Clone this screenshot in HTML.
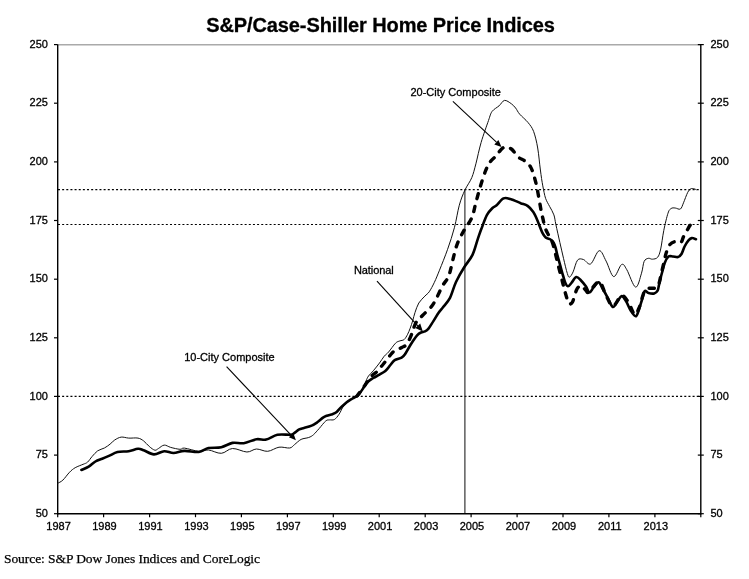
<!DOCTYPE html>
<html><head><meta charset="utf-8"><style>
html,body{margin:0;padding:0;background:#fff;width:749px;height:579px;overflow:hidden;}
svg{display:block;will-change:transform;}
</style></head><body>
<svg width="749" height="579" viewBox="0 0 749 579">
<text x="380.5" y="32.2" text-anchor="middle" font-size="20" font-weight="bold" letter-spacing="-0.11" font-family="Liberation Sans, sans-serif" stroke="#000" stroke-width="0.3" fill="#000">S&amp;P/Case-Shiller Home Price Indices</text>
<line x1="57.7" y1="189.6" x2="700.8" y2="189.6" stroke="#000" stroke-width="1.2" stroke-dasharray="2 2.1477" stroke-dashoffset="-0.29"/>
<line x1="57.7" y1="224.5" x2="700.8" y2="224.5" stroke="#000" stroke-width="1.2" stroke-dasharray="2 2.1477" stroke-dashoffset="-0.29"/>
<line x1="57.7" y1="396.4" x2="700.8" y2="396.4" stroke="#000" stroke-width="1.2" stroke-dasharray="2 2.1477" stroke-dashoffset="-0.29"/>
<line x1="464.9" y1="189.6" x2="464.9" y2="513.7" stroke="#222" stroke-width="1.1"/>
<line x1="57.7" y1="44.8" x2="700.8" y2="44.8" stroke="#aaa" stroke-width="1.6"/>
<line x1="57.7" y1="44.6" x2="57.7" y2="514.4" stroke="#000" stroke-width="1.4"/>
<line x1="700.8" y1="44.6" x2="700.8" y2="514.4" stroke="#000" stroke-width="1.4"/>
<line x1="57.7" y1="513.7" x2="700.8" y2="513.7" stroke="#000" stroke-width="1.4"/>
<line x1="54.0" y1="513.7" x2="57.7" y2="513.7" stroke="#000" stroke-width="1.2"/>
<line x1="697.8" y1="513.7" x2="703.8" y2="513.7" stroke="#000" stroke-width="1.2"/>
<text x="47.9" y="516.8" text-anchor="end" font-size="11" font-family="Liberation Sans, sans-serif" stroke="#000" stroke-width="0.3">50</text>
<text x="710.4" y="516.8" font-size="11" font-family="Liberation Sans, sans-serif" stroke="#000" stroke-width="0.3">50</text>
<line x1="54.0" y1="455.1" x2="57.7" y2="455.1" stroke="#000" stroke-width="1.2"/>
<line x1="697.8" y1="455.1" x2="703.8" y2="455.1" stroke="#000" stroke-width="1.2"/>
<text x="47.9" y="458.2" text-anchor="end" font-size="11" font-family="Liberation Sans, sans-serif" stroke="#000" stroke-width="0.3">75</text>
<text x="710.4" y="458.2" font-size="11" font-family="Liberation Sans, sans-serif" stroke="#000" stroke-width="0.3">75</text>
<line x1="54.0" y1="396.4" x2="57.7" y2="396.4" stroke="#000" stroke-width="1.2"/>
<line x1="697.8" y1="396.4" x2="703.8" y2="396.4" stroke="#000" stroke-width="1.2"/>
<text x="47.9" y="399.5" text-anchor="end" font-size="11" font-family="Liberation Sans, sans-serif" stroke="#000" stroke-width="0.3">100</text>
<text x="710.4" y="399.5" font-size="11" font-family="Liberation Sans, sans-serif" stroke="#000" stroke-width="0.3">100</text>
<line x1="54.0" y1="337.8" x2="57.7" y2="337.8" stroke="#000" stroke-width="1.2"/>
<line x1="697.8" y1="337.8" x2="703.8" y2="337.8" stroke="#000" stroke-width="1.2"/>
<text x="47.9" y="340.9" text-anchor="end" font-size="11" font-family="Liberation Sans, sans-serif" stroke="#000" stroke-width="0.3">125</text>
<text x="710.4" y="340.9" font-size="11" font-family="Liberation Sans, sans-serif" stroke="#000" stroke-width="0.3">125</text>
<line x1="54.0" y1="279.2" x2="57.7" y2="279.2" stroke="#000" stroke-width="1.2"/>
<line x1="697.8" y1="279.2" x2="703.8" y2="279.2" stroke="#000" stroke-width="1.2"/>
<text x="47.9" y="282.3" text-anchor="end" font-size="11" font-family="Liberation Sans, sans-serif" stroke="#000" stroke-width="0.3">150</text>
<text x="710.4" y="282.3" font-size="11" font-family="Liberation Sans, sans-serif" stroke="#000" stroke-width="0.3">150</text>
<line x1="54.0" y1="220.5" x2="57.7" y2="220.5" stroke="#000" stroke-width="1.2"/>
<line x1="697.8" y1="220.5" x2="703.8" y2="220.5" stroke="#000" stroke-width="1.2"/>
<text x="47.9" y="223.6" text-anchor="end" font-size="11" font-family="Liberation Sans, sans-serif" stroke="#000" stroke-width="0.3">175</text>
<text x="710.4" y="223.6" font-size="11" font-family="Liberation Sans, sans-serif" stroke="#000" stroke-width="0.3">175</text>
<line x1="54.0" y1="161.9" x2="57.7" y2="161.9" stroke="#000" stroke-width="1.2"/>
<line x1="697.8" y1="161.9" x2="703.8" y2="161.9" stroke="#000" stroke-width="1.2"/>
<text x="47.9" y="165.0" text-anchor="end" font-size="11" font-family="Liberation Sans, sans-serif" stroke="#000" stroke-width="0.3">200</text>
<text x="710.4" y="165.0" font-size="11" font-family="Liberation Sans, sans-serif" stroke="#000" stroke-width="0.3">200</text>
<line x1="54.0" y1="103.2" x2="57.7" y2="103.2" stroke="#000" stroke-width="1.2"/>
<line x1="697.8" y1="103.2" x2="703.8" y2="103.2" stroke="#000" stroke-width="1.2"/>
<text x="47.9" y="106.3" text-anchor="end" font-size="11" font-family="Liberation Sans, sans-serif" stroke="#000" stroke-width="0.3">225</text>
<text x="710.4" y="106.3" font-size="11" font-family="Liberation Sans, sans-serif" stroke="#000" stroke-width="0.3">225</text>
<line x1="54.0" y1="44.6" x2="57.7" y2="44.6" stroke="#000" stroke-width="1.2"/>
<line x1="697.8" y1="44.6" x2="703.8" y2="44.6" stroke="#000" stroke-width="1.2"/>
<text x="47.9" y="47.7" text-anchor="end" font-size="11" font-family="Liberation Sans, sans-serif" stroke="#000" stroke-width="0.3">250</text>
<text x="710.4" y="47.7" font-size="11" font-family="Liberation Sans, sans-serif" stroke="#000" stroke-width="0.3">250</text>
<line x1="57.7" y1="513.7" x2="57.7" y2="517.2" stroke="#000" stroke-width="1.2"/>
<text x="58.6" y="530" text-anchor="middle" font-size="11" font-family="Liberation Sans, sans-serif" stroke="#000" stroke-width="0.3">1987</text>
<line x1="103.6" y1="513.7" x2="103.6" y2="517.2" stroke="#000" stroke-width="1.2"/>
<text x="104.5" y="530" text-anchor="middle" font-size="11" font-family="Liberation Sans, sans-serif" stroke="#000" stroke-width="0.3">1989</text>
<line x1="149.6" y1="513.7" x2="149.6" y2="517.2" stroke="#000" stroke-width="1.2"/>
<text x="150.5" y="530" text-anchor="middle" font-size="11" font-family="Liberation Sans, sans-serif" stroke="#000" stroke-width="0.3">1991</text>
<line x1="195.5" y1="513.7" x2="195.5" y2="517.2" stroke="#000" stroke-width="1.2"/>
<text x="196.4" y="530" text-anchor="middle" font-size="11" font-family="Liberation Sans, sans-serif" stroke="#000" stroke-width="0.3">1993</text>
<line x1="241.4" y1="513.7" x2="241.4" y2="517.2" stroke="#000" stroke-width="1.2"/>
<text x="242.3" y="530" text-anchor="middle" font-size="11" font-family="Liberation Sans, sans-serif" stroke="#000" stroke-width="0.3">1995</text>
<line x1="287.4" y1="513.7" x2="287.4" y2="517.2" stroke="#000" stroke-width="1.2"/>
<text x="288.3" y="530" text-anchor="middle" font-size="11" font-family="Liberation Sans, sans-serif" stroke="#000" stroke-width="0.3">1997</text>
<line x1="333.3" y1="513.7" x2="333.3" y2="517.2" stroke="#000" stroke-width="1.2"/>
<text x="334.2" y="530" text-anchor="middle" font-size="11" font-family="Liberation Sans, sans-serif" stroke="#000" stroke-width="0.3">1999</text>
<line x1="379.2" y1="513.7" x2="379.2" y2="517.2" stroke="#000" stroke-width="1.2"/>
<text x="380.1" y="530" text-anchor="middle" font-size="11" font-family="Liberation Sans, sans-serif" stroke="#000" stroke-width="0.3">2001</text>
<line x1="425.2" y1="513.7" x2="425.2" y2="517.2" stroke="#000" stroke-width="1.2"/>
<text x="426.1" y="530" text-anchor="middle" font-size="11" font-family="Liberation Sans, sans-serif" stroke="#000" stroke-width="0.3">2003</text>
<line x1="471.1" y1="513.7" x2="471.1" y2="517.2" stroke="#000" stroke-width="1.2"/>
<text x="472.0" y="530" text-anchor="middle" font-size="11" font-family="Liberation Sans, sans-serif" stroke="#000" stroke-width="0.3">2005</text>
<line x1="517.1" y1="513.7" x2="517.1" y2="517.2" stroke="#000" stroke-width="1.2"/>
<text x="518.0" y="530" text-anchor="middle" font-size="11" font-family="Liberation Sans, sans-serif" stroke="#000" stroke-width="0.3">2007</text>
<line x1="563.0" y1="513.7" x2="563.0" y2="517.2" stroke="#000" stroke-width="1.2"/>
<text x="563.9" y="530" text-anchor="middle" font-size="11" font-family="Liberation Sans, sans-serif" stroke="#000" stroke-width="0.3">2009</text>
<line x1="608.9" y1="513.7" x2="608.9" y2="517.2" stroke="#000" stroke-width="1.2"/>
<text x="609.8" y="530" text-anchor="middle" font-size="11" font-family="Liberation Sans, sans-serif" stroke="#000" stroke-width="0.3">2011</text>
<line x1="654.9" y1="513.7" x2="654.9" y2="517.2" stroke="#000" stroke-width="1.2"/>
<text x="655.8" y="530" text-anchor="middle" font-size="11" font-family="Liberation Sans, sans-serif" stroke="#000" stroke-width="0.3">2013</text>
<line x1="700.8" y1="513.7" x2="700.8" y2="517.2" stroke="#000" stroke-width="1.2"/>
<path d="M57.5 483.4 C58.4 482.8 60.9 482.0 62.9 480.1 C64.9 478.2 67.5 474.3 69.6 472.2 C71.6 470.1 73.0 469.0 75.2 467.7 C77.5 466.4 81.0 465.2 83.1 464.3 C85.2 463.4 86.1 463.4 87.6 462.1 C89.1 460.8 90.4 458.4 92.1 456.5 C93.8 454.6 95.7 452.2 97.7 450.8 C99.8 449.4 102.3 449.1 104.4 448.0 C106.5 446.9 108.4 445.4 110.1 444.1 C111.8 442.8 112.8 441.2 114.7 440.0 C116.6 438.8 118.9 437.4 121.2 437.1 C123.5 436.8 125.9 437.9 128.7 438.1 C131.5 438.3 135.5 437.6 138.0 438.1 C140.5 438.6 141.7 439.5 143.6 440.9 C145.5 442.3 147.4 444.9 149.3 446.5 C151.2 448.1 153.4 449.9 154.9 450.2 C156.4 450.5 157.1 449.2 158.6 448.4 C160.1 447.5 162.2 445.3 164.2 445.1 C166.2 444.9 168.1 446.7 170.7 447.4 C173.3 448.1 177.7 449.2 180.0 449.3 C182.3 449.4 181.3 447.8 184.4 448.1 C187.5 448.4 194.8 451.0 198.8 451.3 C202.8 451.6 204.8 449.7 208.5 450.0 C212.2 450.3 217.3 453.6 221.3 453.3 C225.3 453.1 228.2 448.7 232.5 448.5 C236.8 448.3 242.9 451.9 246.9 452.0 C250.9 452.1 253.0 449.1 256.5 449.0 C260.0 448.9 263.9 451.6 267.7 451.3 C271.4 451.0 275.3 447.8 279.0 447.2 C282.7 446.6 287.1 448.4 289.7 448.0 C292.3 447.6 292.6 446.0 294.5 444.6 C296.4 443.2 298.7 440.6 301.1 439.4 C303.5 438.2 306.6 438.3 308.7 437.5 C310.8 436.7 311.8 436.2 313.5 434.7 C315.2 433.2 317.1 430.8 319.2 428.5 C321.2 426.2 324.1 422.3 325.8 420.9 C327.5 419.5 328.2 420.1 329.6 419.9 C331.0 419.7 332.8 420.4 334.4 419.5 C336.0 418.6 337.5 416.5 339.1 414.2 C340.7 411.9 341.7 408.3 343.9 405.7 C346.1 403.1 350.1 400.1 352.5 398.5 C354.9 396.9 356.8 397.5 358.5 395.9 C360.2 394.3 361.2 391.5 362.5 389.0 C363.8 386.5 365.0 383.2 366.0 381.0 C367.0 378.8 367.3 377.7 368.5 376.0 C369.7 374.3 371.5 373.0 373.3 370.8 C375.1 368.6 377.7 365.4 379.5 363.0 C381.3 360.6 382.7 358.0 384.2 356.2 C385.7 354.4 386.7 354.2 388.6 352.0 C390.5 349.8 393.6 345.1 395.5 343.2 C397.4 341.3 398.4 341.5 399.9 340.9 C401.3 340.3 402.9 340.6 404.2 339.5 C405.5 338.4 406.6 336.2 407.6 334.3 C408.6 332.4 409.3 330.5 410.2 328.2 C411.1 325.9 412.0 323.0 412.8 320.4 C413.6 317.8 414.0 315.4 415.0 312.5 C416.0 309.6 417.2 305.7 418.8 303.0 C420.4 300.3 423.2 298.0 424.9 296.1 C426.6 294.2 427.6 294.1 429.2 291.8 C430.8 289.5 432.7 285.9 434.4 282.3 C436.1 278.7 437.3 275.7 439.5 270.2 C441.7 264.7 445.1 256.4 447.6 249.3 C450.1 242.2 452.6 234.7 454.5 227.3 C456.4 220.0 457.6 211.4 459.3 205.2 C461.0 199.0 462.8 194.7 464.9 190.1 C467.0 185.5 470.0 182.0 471.8 177.6 C473.6 173.2 474.3 169.7 475.9 163.8 C477.4 158.0 479.0 149.7 481.1 142.5 C483.2 135.3 486.7 125.7 488.5 120.5 C490.3 115.3 490.4 113.8 492.1 111.4 C493.9 109.0 496.9 107.7 499.0 105.9 C501.1 104.1 502.4 100.8 504.5 100.4 C506.6 100.1 509.5 102.5 511.4 103.8 C513.2 105.1 514.2 106.3 515.6 108.0 C517.0 109.7 517.6 111.8 519.7 114.2 C521.8 116.6 525.7 119.6 528.0 122.5 C530.3 125.4 532.0 127.2 533.6 131.4 C535.2 135.7 536.6 141.6 537.7 148.0 C538.8 154.4 539.5 163.7 540.4 170.0 C541.2 176.3 541.9 181.2 542.8 185.9 C543.7 190.6 544.5 195.0 545.6 198.4 C546.8 201.8 548.3 203.8 549.7 206.6 C551.1 209.3 552.9 211.9 553.9 214.9 C554.9 217.9 554.9 220.0 555.9 224.6 C556.9 229.2 558.6 236.9 559.9 242.6 C561.2 248.3 562.4 253.6 563.6 258.7 C564.8 263.8 566.3 270.3 567.3 273.4 C568.3 276.5 568.5 277.4 569.5 277.1 C570.5 276.9 571.8 274.7 573.1 271.9 C574.4 269.1 575.8 262.3 577.5 260.2 C579.2 258.1 581.2 258.9 583.4 259.5 C585.6 260.1 588.1 265.4 590.7 263.9 C593.3 262.4 596.6 251.2 599.2 250.7 C601.8 250.2 603.7 256.8 606.1 261.1 C608.5 265.4 611.1 276.0 613.7 276.6 C616.3 277.2 619.4 265.6 621.6 264.5 C623.8 263.4 624.5 265.9 626.8 269.7 C629.1 273.5 633.1 286.5 635.6 287.1 C638.1 287.7 640.1 277.5 641.5 273.2 C642.9 268.9 643.0 264.0 644.1 261.5 C645.2 259.0 646.9 258.7 648.3 258.3 C649.7 257.9 650.8 259.4 652.4 259.2 C654.0 259.0 656.2 259.0 657.6 257.3 C659.0 255.6 659.7 253.5 660.7 249.0 C661.7 244.5 662.6 236.4 663.8 230.4 C665.0 224.4 666.8 216.8 668.0 213.2 C669.2 209.5 669.9 209.4 671.1 208.5 C672.3 207.6 673.7 207.9 675.2 208.0 C676.8 208.1 679.0 209.9 680.4 209.0 C681.8 208.1 682.3 205.6 683.5 202.8 C684.7 200.0 686.5 194.7 687.7 192.4 C688.9 190.1 689.8 189.4 690.8 188.8 C691.8 188.2 692.9 188.6 693.9 188.8 C694.9 189.0 696.1 189.6 696.5 189.8" fill="none" stroke="#111" stroke-width="1.0"/>
<path d="M81.4 470.0 C82.6 469.4 86.4 468.0 88.7 466.6 C91.0 465.2 93.2 462.8 95.4 461.5 C97.7 460.2 100.0 459.6 102.2 458.7 C104.5 457.8 106.4 457.0 108.9 455.9 C111.5 454.8 114.2 452.9 117.5 452.1 C120.8 451.3 125.3 451.8 128.7 451.2 C132.1 450.6 135.5 449.0 138.0 448.8 C140.5 448.6 140.9 449.3 143.6 450.2 C146.2 451.1 150.5 454.2 153.9 454.4 C157.3 454.6 160.9 451.4 164.2 451.2 C167.5 451.0 170.2 453.1 173.6 453.0 C177.0 452.9 180.2 451.1 184.4 450.9 C188.6 450.7 194.8 452.5 198.8 452.0 C202.8 451.5 204.8 448.9 208.5 448.1 C212.2 447.3 217.3 448.1 221.3 447.2 C225.3 446.3 228.8 443.6 232.5 442.9 C236.2 442.2 239.7 443.8 243.7 443.2 C247.7 442.6 252.8 439.8 256.5 439.2 C260.2 438.6 262.7 440.3 266.2 439.6 C269.7 438.9 273.3 435.6 277.4 434.8 C281.5 434.0 287.8 435.0 290.7 434.7 C293.6 434.4 293.1 433.7 294.5 432.8 C295.9 431.9 297.6 430.2 299.2 429.4 C300.8 428.6 301.9 428.6 304.0 428.0 C306.1 427.4 309.4 426.6 311.6 425.6 C313.8 424.7 315.4 423.6 317.3 422.3 C319.2 421.0 321.4 418.7 323.0 417.6 C324.6 416.5 325.2 416.3 326.8 415.7 C328.4 415.1 330.9 414.8 332.5 414.2 C334.1 413.6 335.0 413.3 336.3 412.3 C337.6 411.3 338.7 409.6 340.4 408.0 C342.1 406.4 344.4 404.1 346.4 402.5 C348.4 400.9 350.6 399.7 352.5 398.5 C354.4 397.3 356.2 396.7 357.6 395.5 C359.0 394.3 359.9 392.9 361.0 391.5 C362.1 390.1 362.9 388.6 364.0 387.0 C365.1 385.4 366.3 383.3 367.9 381.8 C369.4 380.3 371.4 379.2 373.3 378.0 C375.2 376.8 377.6 375.7 379.5 374.6 C381.4 373.5 383.6 372.4 385.0 371.3 C386.4 370.2 387.1 369.2 388.0 368.2 C388.9 367.1 389.3 366.3 390.4 365.0 C391.5 363.7 392.8 361.4 394.7 360.2 C396.6 359.0 399.9 358.6 401.6 357.6 C403.3 356.6 403.9 355.8 405.0 354.2 C406.1 352.6 407.2 350.3 408.5 348.2 C409.8 346.1 411.4 343.4 412.8 341.3 C414.2 339.2 415.7 336.8 417.1 335.3 C418.5 333.8 419.7 333.1 421.0 332.5 C422.3 331.9 423.8 332.0 425.0 331.4 C426.2 330.8 427.1 330.3 428.5 328.6 C429.9 326.9 431.7 323.7 433.4 321.1 C435.1 318.5 437.0 315.1 438.6 312.8 C440.2 310.5 441.1 309.8 443.0 307.3 C444.9 304.8 447.8 302.0 450.0 297.8 C452.2 293.6 453.6 287.1 456.0 282.0 C458.4 276.9 461.4 271.8 464.2 267.3 C466.9 262.8 470.2 259.7 472.5 254.9 C474.8 250.1 476.5 242.7 478.0 238.3 C479.5 234.0 479.9 232.7 481.4 228.8 C482.9 224.9 485.1 218.4 487.0 214.9 C488.9 211.4 490.9 209.6 492.5 208.0 C494.1 206.4 494.8 206.8 496.6 205.2 C498.4 203.6 501.2 199.4 503.5 198.4 C505.8 197.4 507.5 198.2 510.4 199.0 C513.3 199.8 517.8 202.0 520.7 203.2 C523.6 204.3 525.5 204.4 527.6 205.9 C529.7 207.4 531.8 209.8 533.3 211.9 C534.8 214.1 535.7 216.5 536.7 218.8 C537.7 221.1 538.6 223.4 539.5 225.7 C540.4 228.0 541.3 230.6 542.3 232.6 C543.3 234.6 544.3 236.2 545.7 237.4 C547.1 238.6 549.2 238.7 550.5 239.5 C551.8 240.3 552.7 241.2 553.5 242.5 C554.3 243.8 554.8 245.3 555.5 247.5 C556.2 249.7 556.7 252.7 557.5 255.7 C558.3 258.7 559.3 262.1 560.2 265.4 C561.1 268.7 562.1 272.6 563.0 275.5 C563.9 278.4 564.6 281.2 565.4 283.0 C566.2 284.8 567.0 286.3 568.0 286.3 C569.0 286.3 570.0 284.6 571.4 283.0 C572.8 281.4 574.6 277.4 576.2 277.0 C577.8 276.6 579.4 278.9 581.0 280.5 C582.6 282.1 584.6 284.5 586.0 286.5 C587.4 288.5 588.2 292.3 589.5 292.5 C590.8 292.7 592.0 289.2 593.5 287.5 C595.0 285.8 597.0 282.2 598.5 282.3 C600.0 282.4 600.9 285.6 602.3 288.0 C603.7 290.4 605.4 293.4 607.1 296.6 C608.9 299.8 611.1 306.2 612.8 307.0 C614.5 307.8 616.0 303.1 617.5 301.3 C619.0 299.5 620.4 296.1 621.8 296.1 C623.2 296.1 624.6 298.9 626.1 301.3 C627.6 303.8 629.2 308.3 630.8 310.8 C632.4 313.3 634.3 316.3 635.6 316.3 C636.9 316.3 637.5 313.7 638.5 311.0 C639.5 308.3 640.9 303.3 641.9 300.0 C642.9 296.7 643.6 292.3 644.7 291.1 C645.8 289.9 646.9 292.6 648.5 293.0 C650.1 293.4 652.7 293.8 654.2 293.4 C655.7 293.0 656.8 292.0 657.6 290.6 C658.4 289.2 658.3 287.8 659.0 284.9 C659.7 282.0 660.8 277.1 661.8 273.5 C662.8 269.9 663.6 265.8 664.7 263.0 C665.8 260.2 667.1 257.7 668.5 256.6 C669.9 255.5 671.4 256.4 673.0 256.5 C674.6 256.6 676.6 257.4 678.0 257.0 C679.4 256.6 680.4 255.8 681.5 254.0 C682.6 252.2 683.4 248.8 684.6 246.5 C685.8 244.2 687.5 241.6 688.7 240.2 C689.9 238.8 690.6 238.3 691.8 238.1 C693.0 237.9 695.3 239.0 696.0 239.2" fill="none" stroke="#000" stroke-width="2.6" stroke-linecap="round" stroke-linejoin="round"/>
<path d="M357.0 396.0 C358.0 394.7 361.2 390.5 363.0 388.0 C364.8 385.5 366.4 383.1 368.0 381.0 C369.6 378.9 370.9 376.8 372.5 375.2 C374.1 373.6 376.0 372.7 377.5 371.2 C379.0 369.7 380.2 367.9 381.6 366.2 C383.0 364.4 384.6 362.5 386.0 360.7 C387.4 358.9 388.6 357.2 390.0 355.5 C391.4 353.8 392.7 352.0 394.7 350.7 C396.7 349.4 399.8 348.6 401.8 347.5 C403.9 346.4 405.3 346.4 407.0 344.0 C408.7 341.6 410.8 336.2 412.2 332.8 C413.6 329.4 413.9 326.2 415.6 323.3 C417.3 320.4 419.9 318.2 422.5 315.5 C425.1 312.8 429.1 309.3 431.2 306.9 C433.3 304.5 433.7 303.3 435.0 301.0 C436.3 298.7 437.7 295.7 439.0 293.0 C440.3 290.3 441.6 287.4 443.0 285.0 C444.4 282.6 446.1 281.0 447.3 278.8 C448.5 276.6 449.0 275.5 450.0 272.0 C451.0 268.5 452.1 262.7 453.3 258.0 C454.5 253.3 455.5 248.5 457.3 243.8 C459.1 239.1 461.8 234.3 464.2 230.0 C466.6 225.7 469.9 222.3 471.8 217.7 C473.8 213.1 474.5 207.6 475.9 202.5 C477.3 197.4 478.5 192.6 480.1 187.3 C481.7 182.0 483.9 175.0 485.6 170.7 C487.3 166.4 488.8 163.9 490.5 161.5 C492.2 159.1 494.5 157.7 496.0 156.0 C497.5 154.3 498.1 153.0 499.5 151.5 C500.9 150.0 502.5 147.6 504.5 147.2 C506.5 146.8 509.1 147.4 511.4 149.0 C513.6 150.6 515.8 154.9 518.0 156.9 C520.2 158.9 522.8 159.4 524.9 161.0 C527.0 162.6 528.9 164.2 530.4 166.6 C531.9 169.0 532.9 172.4 533.9 175.6 C534.9 178.8 535.8 182.3 536.6 185.9 C537.4 189.5 537.9 192.6 538.7 197.0 C539.5 201.4 540.7 208.5 541.4 212.2 C542.1 215.9 542.4 216.4 543.0 219.0 C543.6 221.6 544.2 225.0 545.0 227.5 C545.8 230.0 547.0 232.1 548.0 234.0 C549.0 235.9 550.1 237.0 551.0 239.0 C551.9 241.0 552.7 243.2 553.5 246.0 C554.3 248.8 555.2 252.6 556.0 256.0 C556.8 259.4 557.7 263.2 558.5 266.5 C559.3 269.8 560.2 273.1 561.0 276.0 C561.8 278.9 562.4 281.7 563.0 284.0 C563.6 286.3 563.9 287.8 564.5 290.0 C565.1 292.2 565.9 294.9 566.5 297.0 C567.1 299.1 567.7 301.3 568.3 302.5 C568.9 303.7 569.5 304.1 570.2 304.0 C570.9 303.9 571.8 303.3 572.5 302.0 C573.2 300.7 573.8 298.0 574.5 296.0 C575.2 294.0 575.8 291.6 576.5 290.0 C577.2 288.4 578.1 287.2 579.0 286.5 C579.9 285.8 580.8 285.3 582.0 286.0 C583.2 286.7 584.9 289.5 586.0 290.5 C587.1 291.5 586.6 293.6 588.8 292.2 C591.0 290.8 596.3 281.2 599.2 281.8 C602.1 282.4 603.8 291.6 606.1 295.6 C608.4 299.6 610.4 306.0 613.0 306.0 C615.6 306.0 619.0 296.2 621.6 295.6 C624.2 295.0 626.3 299.3 628.5 302.5 C630.7 305.7 632.9 313.7 634.6 314.6 C636.4 315.5 637.9 310.4 639.0 308.0 C640.1 305.6 640.6 302.6 641.5 300.0 C642.4 297.4 643.1 294.1 644.1 292.2 C645.1 290.3 646.4 289.3 647.5 288.6 C648.6 287.9 649.7 288.3 651.0 288.2 C652.3 288.1 654.2 288.5 655.5 288.0 C656.8 287.5 657.6 287.2 658.5 285.0 C659.4 282.8 660.1 278.8 661.0 275.0 C661.9 271.2 663.1 265.8 664.0 262.0 C664.9 258.2 665.5 254.9 666.5 252.0 C667.5 249.1 668.7 246.2 670.0 244.5 C671.3 242.8 672.8 242.1 674.2 241.8 C675.6 241.5 677.1 242.8 678.3 242.8 C679.5 242.8 680.6 242.8 681.5 241.8 C682.4 240.8 682.5 238.7 683.5 236.6 C684.5 234.5 686.5 231.3 687.7 229.3 C688.9 227.3 689.4 225.6 690.8 224.7 C692.2 223.8 695.1 224.2 696.0 224.1" fill="none" stroke="#000" stroke-width="3.4" stroke-dasharray="5.2 8.02" stroke-dashoffset="0.96" stroke-linecap="round"/>
<text x="184.2" y="361.3" font-size="11" font-family="Liberation Sans, sans-serif" stroke="#000" stroke-width="0.3">10-City Composite</text>
<line x1="226.6" y1="366.6" x2="291.1" y2="435.1" stroke="#000" stroke-width="1.1"/><polygon points="295.9,440.2 288.9,437.2 293.3,433.0" fill="#000"/>
<text x="354" y="274.1" font-size="11" letter-spacing="-0.1" font-family="Liberation Sans, sans-serif" stroke="#000" stroke-width="0.3">National</text>
<line x1="377.0" y1="281.1" x2="417.8" y2="325.9" stroke="#000" stroke-width="1.1"/><polygon points="422.8,331.4 415.3,328.1 420.2,323.6" fill="#000"/>
<text x="410.4" y="96.2" font-size="11" font-family="Liberation Sans, sans-serif" stroke="#000" stroke-width="0.3">20-City Composite</text>
<line x1="452.9" y1="101.4" x2="496.4" y2="142.2" stroke="#000" stroke-width="1.1"/><polygon points="501.5,147.0 494.3,144.4 498.4,140.0" fill="#000"/>
<text x="4" y="563.2" font-size="13.5" font-family="Liberation Serif, serif" stroke="#000" stroke-width="0.25" letter-spacing="-0.07">Source: S&amp;P Dow Jones Indices and CoreLogic</text>
</svg>
</body></html>
